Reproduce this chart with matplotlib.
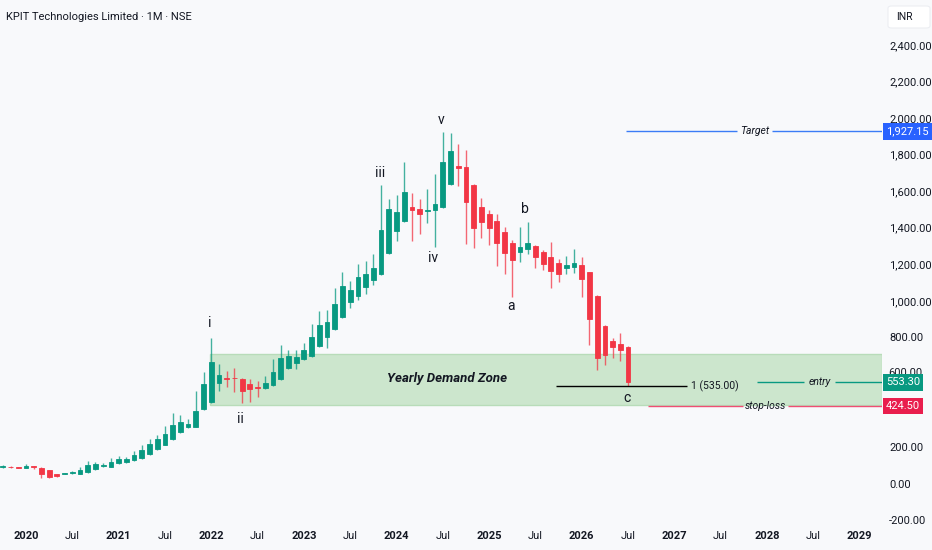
import numpy as np
import pandas as pd
import matplotlib
matplotlib.use('Agg')
import matplotlib.pyplot as plt
from matplotlib.patches import Rectangle, FancyBboxPatch
from matplotlib.transforms import offset_copy

plt.rcParams['font.family'] = ['Roboto', 'DejaVu Sans']

# monthly candles, Oct 2019 .. Jul 2026
months = pd.period_range('2019-10', periods=82, freq='M')
opens = [88, 93, 90, 87, 96, 86, 72, 50, 52, 56, 52, 63, 78, 94, 90, 110, 118, 127, 138, 160,
         190, 213, 242, 280, 308, 311, 406, 448, 552, 578, 578, 572, 545, 530, 521, 537, 570, 630,
         661, 680, 698, 753, 803, 844, 910, 993, 1026, 1077, 1114, 1145, 1263, 1382, 1437, 1515,
         1504, 1490, 1497, 1515, 1639, 1735, 1731, 1634, 1515, 1473, 1437, 1375, 1318, 1269, 1284,
         1302, 1269, 1238, 1205, 1178, 1183, 1196, 1156, 1026, 862, 780, 763, 749]
highs = [100, 98, 92, 105, 98, 88, 74, 54, 60, 66, 92, 125, 117, 110, 137, 148, 146, 179, 209, 246,
         265, 315, 384, 375, 351, 505, 612, 798, 652, 616, 634, 576, 572, 561, 588, 681, 758, 730,
         730, 767, 873, 944, 950, 1072, 1156, 1108, 1200, 1218, 1254, 1634, 1555, 1579, 1761, 1592,
         1555, 1612, 1692, 1926, 1920, 1858, 1825, 1640, 1561, 1497, 1473, 1406, 1333, 1406, 1431,
         1307, 1278, 1323, 1227, 1247, 1282, 1241, 1160, 1030, 866, 798, 822, 752]
lows = [85, 86, 85, 85, 80, 30, 32, 36, 50, 54, 50, 60, 75, 91, 88, 106, 115, 124, 134, 156,
        186, 209, 238, 276, 303, 307, 400, 443, 508, 527, 502, 439, 448, 475, 515, 533, 565, 625,
        625, 675, 694, 748, 740, 840, 905, 961, 1004, 1035, 1086, 1140, 1258, 1327, 1430, 1327,
        1364, 1424, 1296, 1510, 1635, 1628, 1309, 1287, 1342, 1305, 1192, 1145, 1022, 1214, 1254,
        1181, 1169, 1068, 1105, 1145, 1150, 1019, 758, 621, 649, 689, 670, 535]
closes = [95, 88, 87, 96, 89, 52, 37, 41, 57, 63, 74, 100, 105, 101, 119, 136, 136, 156, 183, 216,
          243, 271, 320, 337, 326, 398, 545, 663, 592, 574, 575, 508, 516, 521, 552, 609, 685, 698,
          694, 729, 802, 866, 884, 981, 1081, 1059, 1132, 1147, 1178, 1388, 1501, 1488, 1597, 1497,
          1473, 1497, 1531, 1761, 1822, 1728, 1539, 1397, 1430, 1397, 1318, 1263, 1223, 1296, 1318,
          1241, 1201, 1165, 1147, 1196, 1205, 1118, 900, 685, 703, 749, 731, 553.3]

zone_low, zone_high = 430, 710
fib_level = 535.00
target = 1927.15
entry = 553.30
stop_loss = 424.50

waves = ['i', 'ii', 'iii', 'iv', 'v', 'a', 'b', 'c']
wave_x = [23.8, 27.8, 45.9, 52.7, 53.8, 62.8, 64.6, 77.8]
wave_y = [878, 353, 1700, 1234, 1990, 972, 1502, 468]

tick_pos = list(range(0, 109, 6))
tick_labels = []
for p in tick_pos:
    tick_labels.append(str(2020 + p // 12) if p % 12 == 0 else 'Jul')

GREEN = '#089981'
RED = '#f23645'
BG = '#f8f9fb'
TXT = '#131722'
XR = 110.9

x = np.array([(p.year - 2020) * 12 + p.month - 1 for p in months])
o = np.array(opens, float)
c = np.array(closes, float)
h = np.array(highs, float)
l = np.array(lows, float)
up = c >= o
cols = np.where(up, GREEN, RED)

fig = plt.figure(figsize=(9.32, 5.5), dpi=100, facecolor=BG)
ax = fig.add_axes([0, 25 / 550, 882 / 932, 525 / 550])
ax.set_facecolor(BG)
ax.set_xlim(-3.37, XR)
ax.set_ylim(-227, 2646)

# demand zone
ax.add_patch(Rectangle((23.8, zone_low), XR - 23.8, zone_high - zone_low,
                       facecolor='#cce6cd', edgecolor='#b8dcb9', lw=1, zorder=1))
ax.text(54.5, 572, 'Yearly Demand Zone', fontsize=9.5, fontweight='bold', style='italic',
        color=TXT, ha='center', va='center', zorder=2)

# candles
ax.vlines(x, l, h, colors=cols, lw=1, alpha=0.75, zorder=3)
ax.bar(x, np.abs(c - o), bottom=np.minimum(o, c), width=0.62, color=cols,
       edgecolor=cols, lw=0.6, zorder=4)

# fib 1 line
ax.hlines(fib_level, 68.7, 85.6, colors='black', lw=1, zorder=5)
ax.text(86.2, fib_level, '1 (535.00)', fontsize=7.5, color=TXT, ha='left', va='center')

# target / entry / stop-loss lines, broken around their labels
lines = [(target, 77.7, 92.1, 96.6, 'Target', '#3b7cf6'),
         (entry, 94.7, 100.8, 104.8, 'entry', GREEN),
         (stop_loss, 80.6, 92.9, 98.7, 'stop-loss', '#ef4f73')]
for val, x0, g0, g1, name, col in lines:
    ax.hlines(val, x0, g0, colors=col, lw=1, zorder=5)
    ax.hlines(val, g1, XR, colors=col, lw=1, zorder=5)
    ax.text((g0 + g1) / 2, val, name, fontsize=7.5, style='italic', color=TXT,
            ha='center', va='center', zorder=6)

# wave labels
for w, wx, wy in zip(waves, wave_x, wave_y):
    ax.text(wx, wy, w, fontsize=10, color=TXT, ha='center', va='center', zorder=6)

# price badges
badges = [(target, '1,927.15', '#2962ff'), (entry, '553.30', GREEN), (stop_loss, '424.50', '#e91e4d')]
for val, s, col in badges:
    ax.text(1.0045, val, s, transform=ax.get_yaxis_transform(), fontsize=8, color='white',
            ha='left', va='center', zorder=10, clip_on=False,
            bbox=dict(boxstyle='square,pad=0.3', fc=col, ec='none'))

# axes
for sp in ax.spines.values():
    sp.set_visible(False)
ax.set_xticks(tick_pos)
ax.set_xticklabels(tick_labels)
for t, lab in zip(ax.get_xticklabels(), tick_labels):
    if lab != 'Jul':
        t.set_fontweight('bold')
ax.tick_params(axis='x', length=0, pad=4, labelsize=8, labelcolor=TXT)
yt = [-200, 0, 200, 800, 1000, 1200, 1400, 1600, 1800, 2000, 2200, 2400]
ax.set_yticks(yt)
ax.set_yticklabels([f'{v:,.2f}' for v in yt])
ax.yaxis.tick_right()
ax.tick_params(axis='y', length=0, pad=5, labelsize=8, labelcolor=TXT)
# 600 label sits just above the entry badge
ax.text(1.0045, 600, '600.00', fontsize=8, color=TXT, ha='left', va='bottom', clip_on=False,
        transform=offset_copy(ax.get_yaxis_transform(), fig=fig, x=2, y=-3, units='points'))

fig.text(6 / 932, 1 - 17 / 550, 'KPIT Technologies Limited \u00b7 1M \u00b7 NSE', fontsize=8,
         color=TXT, ha='left', va='center')
fig.patches.append(FancyBboxPatch((888 / 932, 1 - 28 / 550), 42 / 932, 22 / 550,
                                  boxstyle='round,pad=0,rounding_size=0.004',
                                  transform=fig.transFigure, fc='white', ec='#eceef2', lw=0.8))
fig.text(904 / 932, 1 - 17 / 550, 'INR', fontsize=7.5, color=TXT, ha='center', va='center')

fig.savefig('out.png', dpi=100, facecolor=BG)
